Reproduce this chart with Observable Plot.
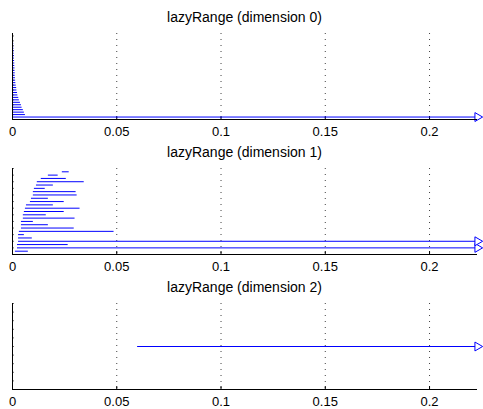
<!DOCTYPE html>
<html><head><meta charset="utf-8">
<script src="https://cdn.jsdelivr.net/npm/d3@7"></script>
<script src="https://cdn.jsdelivr.net/npm/@observablehq/plot@0.6"></script>
<style>
body{margin:0;background:#fff;font-family:"Liberation Sans",Arial,sans-serif;}
#wrap{position:relative;width:483px;height:409px;overflow:hidden;background:#fff;}
.title{position:absolute;left:12px;width:465px;text-align:center;font-size:14px;line-height:16px;color:#000;white-space:nowrap;}
.panel{position:absolute;left:0;}
</style></head><body><div id="wrap"></div>
<script>
// ---- data ----
const titles = ["lazyRange (dimension 0)", "lazyRange (dimension 1)", "lazyRange (dimension 2)"];
const xTickValues = [0, 0.05, 0.1, 0.15, 0.2];
const xMax = 0.223;

// dimension 0 (listed bottom to top)
const dim0Birth = [0,0,0,0,0,0,0,0,0,0,0,0,0,0,0,0,0,0,0,0,0,0,0,0,0,0,0,0,0,0,0,0,0,0];
const dim0Death = [Infinity, 0.0062, 0.0057, 0.0052, 0.0046, 0.0043, 0.0038, 0.0033, 0.0030, 0.0026,
  0.0024, 0.0021, 0.0020, 0.0018, 0.0016, 0.0015, 0.0014, 0.0013, 0.0013, 0.0012,
  0.0012, 0.0011, 0.0011, 0.0010, 0.0009, 0.0009, 0.0008, 0.0008, 0.0007, 0.0006,
  0.0006, 0.0005, 0.0004, 0.0003];

// dimension 1 (listed bottom to top)
const dim1Birth = [0.0014, 0.0024, 0.0024, 0.0029, 0.0029, 0.0029, 0.0033, 0.0043, 0.0043, 0.0043,
  0.0052, 0.0052, 0.0057, 0.0062, 0.0067, 0.0086, 0.0091, 0.0100, 0.0100, 0.0105,
  0.0115, 0.0119, 0.0138, 0.0172, 0.0239];
const dim1Death = [0.0076, Infinity, 0.0267, Infinity, 0.0095, 0.0057, 0.0487, 0.0296, 0.0172, 0.0100,
  0.0300, 0.0162, 0.0248, 0.0324, 0.0196, 0.0248, 0.0172, 0.0310, 0.0305, 0.0157,
  0.0196, 0.0344, 0.0258, 0.0219, 0.0272];

// dimension 2
const dim2Birth = [0.060];
const dim2Death = [Infinity];

const panels = [
  {birth: dim0Birth, death: dim0Death, yTicks: 14},
  {birth: dim1Birth, death: dim1Death, yTicks: 13},
  {birth: dim2Birth, death: dim2Death, yTicks: 14}
];

const wrap = document.getElementById("wrap");
const plotTop0 = 33, step = 135, plotH = 86, mT = 6, mB = 22;
const blue = "#0000ff";

panels.forEach((p, k) => {
  const n = p.birth.length;
  const idx = d3.range(n);
  const inf = idx.filter(i => !isFinite(p.death[i]));
  const t = document.createElement("div");
  t.className = "title";
  t.style.top = (9 + step * k) + "px";
  t.textContent = titles[k];
  wrap.appendChild(t);

  const chart = Plot.plot({
    width: 483,
    height: mT + plotH + mB,
    marginTop: mT,
    marginBottom: mB,
    marginLeft: 12,
    marginRight: 6,
    style: {fontFamily: "Liberation Sans, Arial, sans-serif", fontSize: "13px", background: "transparent", color: "#000", overflow: "visible"},
    x: {domain: [0, xMax]},
    y: {domain: [0, n + 1]},
    marks: [
      Plot.gridX(xTickValues.filter(v => v > 0), {stroke: "#000", strokeOpacity: 0.75, strokeDasharray: "1,5"}),
      Plot.axisX({ticks: xTickValues, tickSize: 0, tickPadding: 7, tickFormat: d => String(d), label: null, fontSize: 13}),
      Plot.axisX({ticks: xTickValues, tickSize: 3, fill: "none", dy: -3, label: null}),
      Plot.axisY({ticks: p.yTicks, tickSize: 2, fill: "none", dx: 2, label: null, tickFormat: () => "", strokeOpacity: 0.55}),
      Plot.ruleY(idx, {y: i => i + 1, x1: i => p.birth[i], x2: i => Math.min(p.death[i], xMax), stroke: blue, strokeWidth: 1}),
      Plot.dot(inf, {x: () => xMax, y: i => i + 1, symbol: "triangle", rotate: 90, r: 3.3, stroke: blue, fill: "white", strokeWidth: 1}),
      Plot.ruleY([0], {stroke: "#000"}),
      Plot.ruleX([0], {stroke: "#000"})
    ]
  });
  chart.classList.add("panel");
  chart.style.top = (plotTop0 + step * k - mT) + "px";
  chart.style.position = "absolute";
  wrap.appendChild(chart);
});
</script>
</body></html>
